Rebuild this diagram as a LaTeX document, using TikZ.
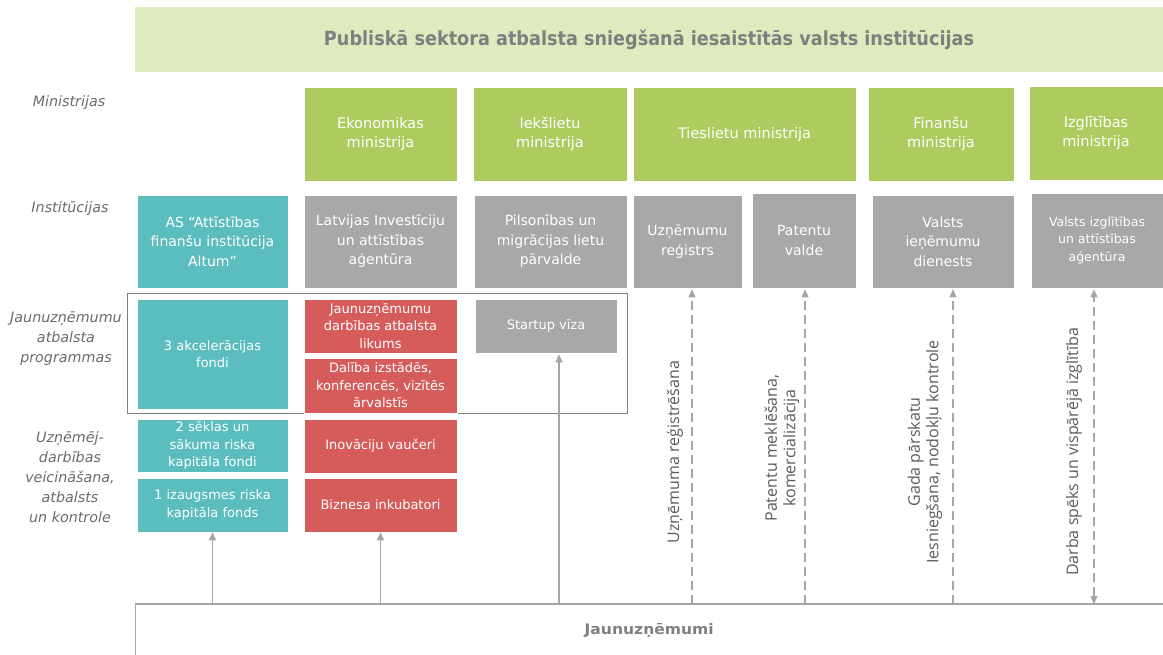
\documentclass[tikz,border=0pt]{standalone}
\usepackage{fontspec}
\usepackage{graphicx}
\setmainfont{DejaVu Sans}
\newfontfamily\rotfont{Open Sans}
\usetikzlibrary{arrows.meta,calc}
\definecolor{banner}{HTML}{DDEBBF}
\definecolor{mgreen}{HTML}{ADCB5F}
\definecolor{igray}{HTML}{A8A8A8}
\definecolor{cteal}{HTML}{5BBDBD}
\definecolor{cred}{HTML}{D65C5C}
\definecolor{lgray}{HTML}{6B6B6B}
\definecolor{tgray}{HTML}{7F7F7F}
\definecolor{rgray}{HTML}{5A5A5A}
\definecolor{conn}{HTML}{A6A6A6}
\begin{document}
\begin{tikzpicture}[x=1pt,y=-1pt,
  bx/.style={draw=white, line width=0.5pt, inner sep=0pt, align=center, text=white},
  mbox/.style={bx, fill=mgreen, font=\fontsize{14.5}{19}\selectfont},
  ibox/.style={bx, fill=igray, font=\fontsize{14}{19.5}\selectfont},
  tbox/.style={bx, fill=cteal, font=\fontsize{13}{17.5}\selectfont},
  rbox/.style={bx, fill=cred, font=\fontsize{13}{17.5}\selectfont},
  smallf/.style={font=\fontsize{12.5}{17.5}\selectfont},
  lab/.style={text=lgray, align=center, font=\fontsize{14.3}{20}\selectfont\itshape},
  arr/.style={draw=conn, line width=1.1pt, -{Triangle[length=8pt,width=7pt]}},
  darr/.style={arr, dash pattern=on 9pt off 5pt},
  rot/.style={rotate=90, text=rgray, align=center, font=\rotfont\fontsize{16}{18.5}\selectfont}
]
\useasboundingbox (0,0) rectangle (1163,654);

% banner
\node[fill=banner, minimum width=1028, minimum height=65, inner sep=0pt, text=tgray] (ban) at (649,39.5)
  {\resizebox{650pt}{\height}{\fontsize{19.5}{22}\selectfont\bfseries Publiskā sektora atbalsta sniegšanā iesaistītās valsts institūcijas}};

% left labels
\node[lab] (lmin) at (69,103) {Ministrijas};
\node[lab] (linst) at (70,209) {Institūcijas};
\node[lab] (lprog) at (66,339) {Jaunuzņēmumu\\atbalsta\\programmas};
\node[lab] (lent) at (70,477) {Uzņēmēj-\\darbības\\veicināšana,\\atbalsts\\un kontrole};

% ministries
\node[mbox, minimum width=153, minimum height=94] (eko) at (380.5,134) {Ekonomikas\\ministrija};
\node[mbox, minimum width=154, minimum height=94] (iek) at (550,134) {Iekšlietu\\ministrija};
\node[mbox, minimum width=223, minimum height=94] (ties) at (744.5,134) {Tieslietu ministrija};
\node[mbox, minimum width=146, minimum height=94] (fin) at (941,134) {Finanšu\\ministrija};
\node[mbox, minimum width=134, minimum height=94] (izm) at (1096,133) {Izglītības\\ministrija};

% institutions
\node[ibox, fill=cteal, minimum width=151, minimum height=93] (altum) at (212.5,241.5) {AS “Attīstības\\finanšu institūcija\\Altum”};
\node[ibox, minimum width=153, minimum height=93] (liaa) at (380.5,241.5) {Latvijas Investīciju\\un attīstības\\aģentūra};
\node[ibox, minimum width=153, minimum height=93] (pmlp) at (550.5,241.5) {Pilsonības un\\migrācijas lietu\\pārvalde};
\node[ibox, minimum width=109, minimum height=93] (ur) at (687.5,241.5) {Uzņēmumu\\reģistrs};
\node[ibox, minimum width=104, minimum height=95] (pv) at (804,240.5) {Patentu\\valde};
\node[ibox, minimum width=142, minimum height=93] (vid) at (943,241.5) {Valsts\\ieņēmumu\\dienests};
\node[ibox, smallf, minimum width=132, minimum height=95] (visc) at (1097,240.5) {Valsts izglītības\\un attīstības\\aģentūra};

% programmes frame
\draw[draw=tgray, line width=0.8pt] (127,293) rectangle (627,413);

% programmes
\node[tbox, minimum width=151, minimum height=110] (akc) at (212.5,354) {3 akcelerācijas\\fondi};
\node[rbox, minimum width=153, minimum height=54] (jdal) at (380.5,326) {Jaunuzņēmumu\\darbības atbalsta\\likums};
\node[rbox, minimum width=153, minimum height=55] (dal) at (380.5,385.5) {Dalība izstādēs,\\konferencēs, vizītēs\\ārvalstīs};
\node[ibox, font=\fontsize{13}{17.5}\selectfont, minimum width=142, minimum height=54] (sv) at (546,326) {Startup vīza};

% entrepreneurship
\node[tbox, minimum width=151, minimum height=53] (sek) at (212.5,445.5) {2 sēklas un\\sākuma riska\\kapitāla fondi};
\node[tbox, minimum width=151, minimum height=54] (izaug) at (212.5,505) {1 izaugsmes riska\\kapitāla fonds};
\node[rbox, minimum width=153, minimum height=54] (inov) at (380.5,446) {Inovāciju vaučeri};
\node[rbox, minimum width=153, minimum height=54] (bizn) at (380.5,505) {Biznesa inkubatori};

% startups
\node[minimum width=1028, minimum height=52, inner sep=0pt, anchor=north west, text=tgray] (st) at (135,604)
  {\resizebox{129pt}{\height}{\fontsize{14.5}{16}\selectfont\bfseries Jaunuzņēmumi}};
\draw[conn, line width=1.8pt] (st.north west) -- (st.north east);
\draw[conn, line width=1pt] (st.north west) -- (st.south west);

% solid arrows
\draw[arr] (st.north -| izaug.south) -- (izaug.south);
\draw[arr] (st.north -| bizn.south) -- (bizn.south);
\coordinate (svin) at ($(sv.south)+(13,1)$);
\draw[arr] (st.north -| svin) -- (svin);

% dashed arrows
\coordinate (urin) at ($(ur.south)+(4.5,1)$);
\coordinate (pvin) at ($(pv.south)+(1,1)$);
\coordinate (vidin) at ($(vid.south)+(10,1)$);
\coordinate (viscin) at ($(visc.south)+(-3,1)$);
\draw[darr] (st.north -| urin) -- (urin);
\draw[darr] (st.north -| pvin) -- (pvin);
\draw[darr] (st.north -| vidin) -- (vidin);
\draw[darr, {Triangle[length=8pt,width=7pt]}-{Triangle[length=8pt,width=7pt]}] (st.north -| viscin) -- (viscin);

% rotated labels
\node[rot] (urlab) at (675,452) {Uzņēmuma reģistrēšana};
\node[rot] (pvlab) at (782,448) {Patentu meklēšana,\\komercializācija};
\node[rot] (vidlab) at (925,452) {Gada pārskatu\\Iesniegšana, nodokļu kontrole};
\node[rot] (visclab) at (1074,452) {Darba spēks un vispārējā izglītība};
\end{tikzpicture}
\end{document}
